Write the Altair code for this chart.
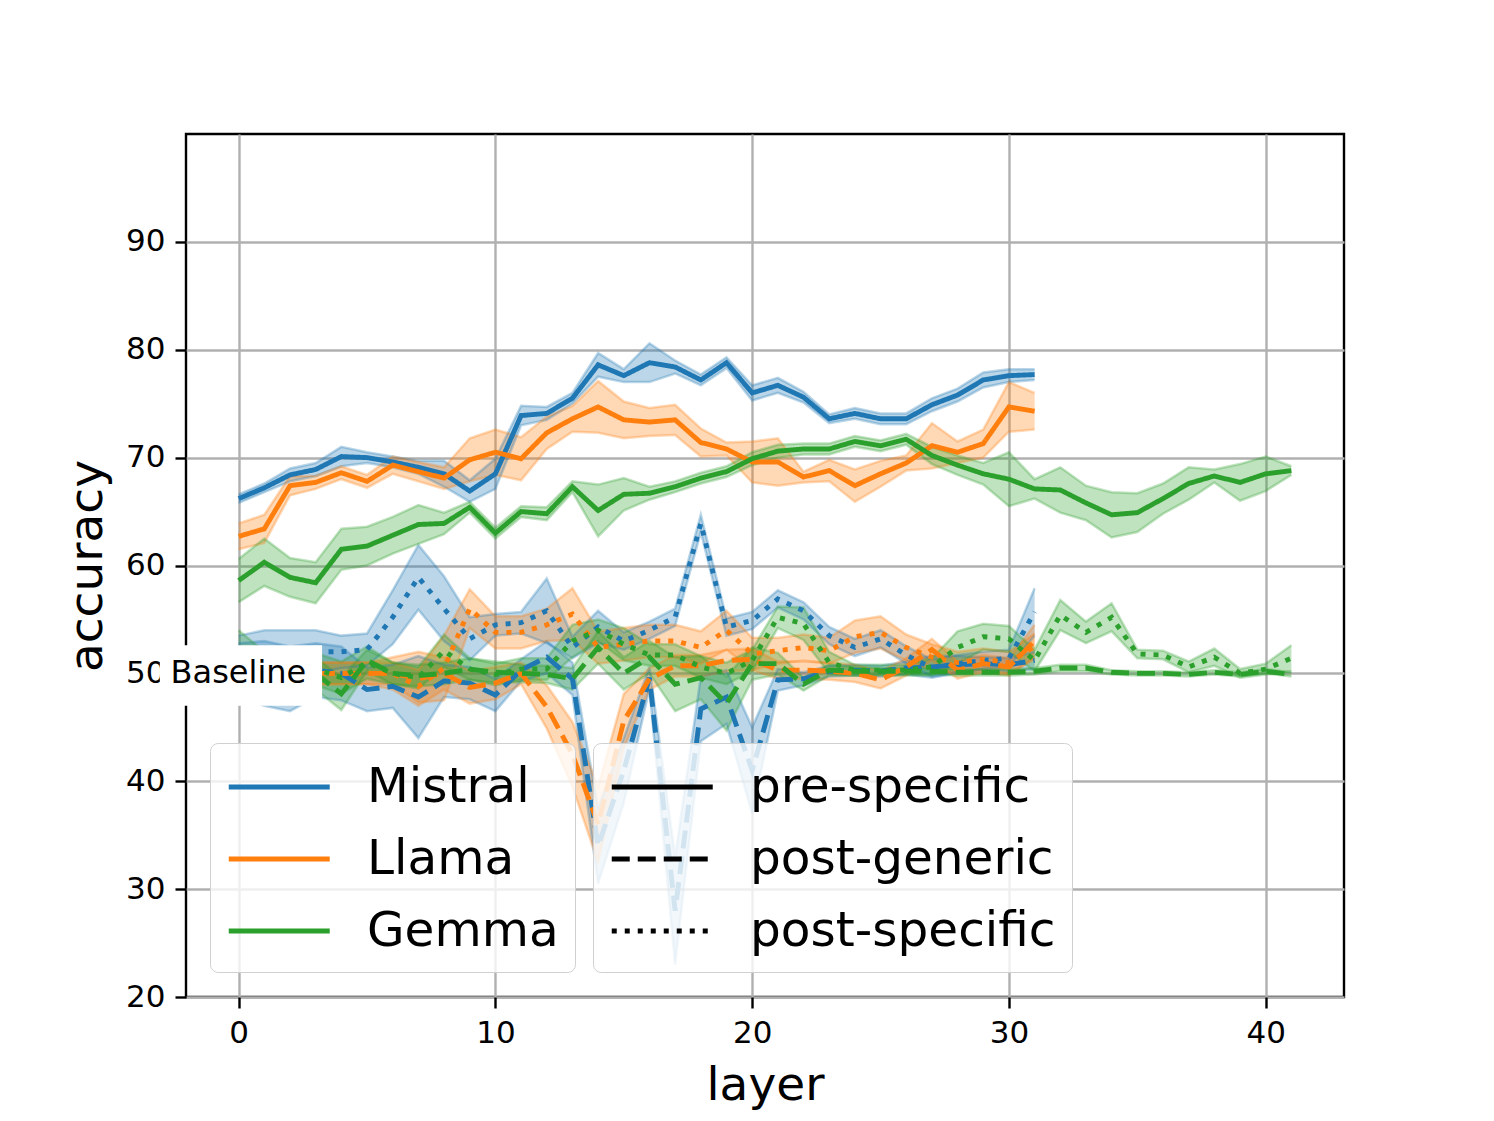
import altair as alt
import pandas as pd

# ---------------- data ----------------
models = ["Mistral", "Llama", "Gemma"]
settings = ["pre-specific", "post-generic", "post-specific"]
colors = ["#1f77b4", "#ff7f0e", "#2ca02c"]

mistral_pre = [66.2, 67.2, 68.4, 68.9, 70.1, 70.0, 69.6, 69.1, 68.5, 66.9, 68.5, 73.9, 74.1, 75.5, 78.6, 77.6,
               78.8, 78.4, 77.2, 78.8, 76.0, 76.7, 75.6, 73.6, 74.1, 73.6, 73.6, 74.9, 75.8, 77.2, 77.6, 77.7]
mistral_pre_err = [0.4, 0.4, 0.6, 0.6, 0.9, 0.5, 0.5, 0.6, 1.2, 1.0, 1.4, 0.9, 0.6, 0.5, 1.1, 0.6,
                   1.8, 0.6, 0.5, 0.5, 0.7, 0.7, 0.5, 0.4, 0.5, 0.5, 0.5, 0.6, 0.6, 0.7, 0.6, 0.5]
mistral_gen = [50.3, 50.0, 49.5, 50.3, 50.0, 48.5, 48.8, 47.8, 49.3, 49.1, 48.0, 50.3, 51.5, 49.5, 34.0, 41.0,
               49.6, 28.0, 46.7, 47.8, 41.0, 49.4, 49.5, 50.2, 50.3, 50.2, 50.5, 50.6, 50.8, 50.9, 50.8, 51.2]
mistral_gen_err = [2.5, 3.0, 3.0, 2.5, 2.5, 2.0, 2.0, 3.8, 1.5, 1.5, 1.5, 1.0, 1.5, 1.5, 3.5, 3.0,
                   1.0, 5.0, 3.0, 2.5, 4.0, 1.0, 0.6, 0.5, 0.5, 0.5, 0.6, 1.0, 0.8, 0.6, 0.6, 0.8]
mistral_spec = [51.0, 51.5, 51.5, 52.0, 52.0, 52.2, 55.2, 58.9, 56.0, 53.2, 54.5, 54.7, 55.8, 52.4, 54.3, 53.0,
                54.0, 55.2, 63.9, 54.3, 54.9, 56.9, 55.8, 53.5, 52.4, 53.2, 51.7, 50.5, 50.9, 51.2, 51.4, 55.7]
mistral_spec_err = [2.5, 2.5, 2.5, 2.0, 1.5, 1.5, 2.5, 3.0, 3.0, 2.0, 1.0, 1.0, 3.0, 1.0, 1.5, 0.8,
                    0.8, 0.8, 0.8, 0.8, 0.8, 0.8, 0.8, 0.8, 0.8, 0.8, 0.8, 0.8, 0.8, 0.8, 0.8, 2.2]

llama_pre = [62.7, 63.4, 67.4, 67.7, 68.6, 67.8, 69.3, 68.7, 68.1, 69.8, 70.5, 69.9, 72.3, 73.6, 74.7, 73.5,
             73.3, 73.5, 71.4, 70.8, 69.6, 69.6, 68.2, 68.8, 67.4, 68.5, 69.5, 71.1, 70.5, 71.3, 74.7, 74.3]
llama_pre_err = [1.2, 1.3, 0.9, 0.6, 0.6, 0.6, 0.8, 0.9, 1.0, 2.0, 2.1, 2.0, 1.5, 1.2, 2.4, 1.7,
                 1.3, 1.4, 1.3, 0.6, 1.9, 2.2, 0.5, 1.0, 1.5, 1.2, 0.7, 2.1, 1.0, 1.3, 2.3, 1.7]
llama_gen = [50.0, 50.0, 50.0, 50.0, 50.0, 50.0, 50.0, 49.5, 50.0, 48.7, 49.1, 50.0, 46.9, 42.5, 36.0, 45.6,
             49.5, 50.7, 50.7, 51.2, 51.3, 50.3, 50.3, 50.2, 50.0, 49.4, 50.6, 52.2, 50.3, 50.9, 50.6, 53.0]
llama_gen_err = [1.0, 1.0, 1.0, 1.0, 1.0, 1.0, 1.5, 2.5, 1.5, 1.5, 1.5, 1.0, 2.0, 3.0, 3.5, 2.5,
                 1.0, 1.0, 1.0, 1.0, 1.0, 0.8, 0.8, 0.8, 0.8, 0.8, 0.8, 1.0, 0.8, 0.8, 0.8, 1.5]
llama_spec = [50.0, 50.0, 50.0, 50.0, 50.0, 50.0, 50.0, 48.8, 50.5, 56.0, 53.8, 53.8, 54.5, 55.5, 52.4, 52.7,
              53.0, 53.0, 52.4, 54.0, 51.8, 52.1, 52.4, 52.1, 53.4, 53.8, 52.4, 51.5, 51.0, 51.3, 51.0, 52.5]
llama_spec_err = [1.0, 1.0, 1.0, 1.0, 1.0, 1.0, 1.0, 1.5, 3.0, 1.8, 1.5, 1.5, 1.5, 2.4, 1.5, 1.5,
                  1.5, 1.5, 1.5, 1.8, 1.5, 1.2, 1.2, 1.2, 1.5, 1.5, 1.2, 1.2, 1.0, 1.0, 1.0, 1.2]

gemma_pre = [58.6, 60.3, 58.9, 58.4, 61.5, 61.8, 62.8, 63.8, 63.9, 65.4, 63.0, 65.0, 64.8, 67.3, 65.1, 66.6,
             66.7, 67.3, 68.1, 68.7, 69.9, 70.6, 70.8, 70.8, 71.5, 71.1, 71.7, 70.2, 69.3, 68.5, 68.0, 67.1,
             67.0, 65.8, 64.7, 64.9, 66.2, 67.6, 68.3, 67.7, 68.5, 68.8]
gemma_pre_err = [2.0, 2.2, 1.8, 1.9, 1.9, 1.8, 1.7, 1.8, 1.0, 0.5, 0.5, 0.5, 0.6, 0.5, 2.4, 1.5,
                 0.6, 0.5, 0.5, 0.5, 0.6, 0.6, 0.5, 0.5, 0.5, 0.5, 0.5, 0.8, 0.9, 1.0, 2.5, 0.9,
                 2.1, 1.6, 2.1, 1.8, 1.4, 1.5, 0.6, 1.7, 1.6, 0.4]
gemma_gen = [50.0, 49.5, 50.0, 50.0, 48.1, 51.2, 50.0, 49.8, 50.0, 50.4, 50.1, 50.0, 49.9, 49.5, 52.4, 50.0,
             51.5, 49.0, 49.6, 47.2, 50.9, 50.9, 49.0, 50.3, 50.2, 50.2, 50.2, 50.2, 50.1, 50.1, 50.1, 50.2,
             50.5, 50.5, 50.1, 50.0, 50.0, 49.9, 50.1, 49.9, 50.2, 49.9]
gemma_gen_err = [1.5, 1.5, 1.5, 1.5, 1.5, 1.0, 1.0, 1.0, 1.0, 1.0, 1.0, 0.8, 0.8, 1.0, 1.5, 1.5,
                 1.5, 2.5, 2.0, 2.5, 1.5, 1.0, 0.6, 0.5, 0.4, 0.3, 0.3, 0.3, 0.3, 0.3, 0.3, 0.3,
                 0.3, 0.3, 0.2, 0.2, 0.2, 0.2, 0.2, 0.2, 0.2, 0.2]
gemma_spec = [52.0, 50.5, 50.5, 50.4, 49.6, 51.0, 50.0, 49.6, 52.1, 50.4, 49.9, 50.4, 50.4, 53.0, 54.0, 52.7,
              51.7, 51.7, 50.6, 50.0, 51.2, 55.2, 54.6, 51.0, 50.3, 50.3, 50.3, 50.6, 52.4, 53.4, 53.2, 51.2,
              55.4, 53.8, 55.2, 51.8, 51.7, 50.6, 51.5, 50.0, 50.4, 51.4]
gemma_spec_err = [2.0, 1.5, 1.5, 1.5, 1.5, 1.5, 1.0, 1.0, 1.5, 1.0, 1.0, 1.0, 1.0, 1.5, 1.0, 1.5,
                  1.0, 1.0, 1.0, 1.0, 1.0, 1.0, 1.5, 1.0, 0.5, 0.5, 0.5, 0.8, 1.5, 1.2, 1.2, 1.0,
                  1.4, 1.0, 1.3, 0.4, 0.4, 0.5, 0.8, 0.4, 0.5, 1.2]

x_ticks = [0, 10, 20, 30, 40]
y_ticks = [20, 30, 40, 50, 60, 70, 80, 90]

# Baseline annotation (data coordinates)
baseline_label = "Baseline"
baseline_x = -2.65
baseline_y = 50
baseline_box = {"x": -3.07, "x2": 3.25, "y": 47.0, "y2": 52.6}

# ---------------- table ----------------
series = {
    ("Mistral", "pre-specific"): (mistral_pre, mistral_pre_err),
    ("Mistral", "post-generic"): (mistral_gen, mistral_gen_err),
    ("Mistral", "post-specific"): (mistral_spec, mistral_spec_err),
    ("Llama", "pre-specific"): (llama_pre, llama_pre_err),
    ("Llama", "post-generic"): (llama_gen, llama_gen_err),
    ("Llama", "post-specific"): (llama_spec, llama_spec_err),
    ("Gemma", "pre-specific"): (gemma_pre, gemma_pre_err),
    ("Gemma", "post-generic"): (gemma_gen, gemma_gen_err),
    ("Gemma", "post-specific"): (gemma_spec, gemma_spec_err),
}
rows = []
for (m, s), (vals, errs) in series.items():
    for i, (v, e) in enumerate(zip(vals, errs)):
        rows.append({"layer": i, "model": m, "setting": s, "acc": v, "lo": v - e, "hi": v + e})
df = pd.DataFrame(rows)

FONT = "DejaVu Sans"
xscale = alt.Scale(domain=[-2.05, 43.05], nice=False, zero=False)
yscale = alt.Scale(domain=[20, 100], nice=False, zero=False)
cscale = alt.Scale(domain=models, range=colors)
dscale = alt.Scale(domain=settings, range=[[1, 0], [18, 8], [5, 8]])

x_enc = alt.X("layer:Q", scale=xscale, title="layer",
              axis=alt.Axis(values=x_ticks, format="d", labelPadding=10, titlePadding=14))
y_axis = alt.Axis(values=y_ticks, format="d", labelPadding=10, titlePadding=14)

# legend symbol: horizontal handle, starting at the entry's left edge, 2x the nominal symbol width
HANDLE = "M-1,0H3"
legend_common = dict(
    orient="none", title=None, symbolType=HANDLE, symbolSize=2550, symbolStrokeWidth=4.9,
    symbolOpacity=1, symbolFillColor="transparent",
    labelFontSize=48.5, labelFont=FONT, labelColor="black", labelLimit=0, labelOffset=85,
    fillColor="rgba(255,255,255,0.8)", strokeColor="#d0d0d0", cornerRadius=8,
    padding=16, rowPadding=19, legendY=609,
)
color_legend = alt.Legend(legendX=24, **legend_common)
dash_legend = alt.Legend(legendX=407, symbolStrokeColor="black", **legend_common)

def color_enc():
    return alt.Color("model:N", scale=cscale, legend=color_legend)

bands = alt.Chart(df).mark_area(opacity=0.3).encode(
    x=x_enc,
    y=alt.Y("lo:Q", scale=yscale, title="accuracy", axis=y_axis, stack=None),
    y2="hi:Q",
    color=color_enc(),
    detail="setting:N",
)

edges = alt.Chart(df).transform_fold(["lo", "hi"], as_=["edge", "val"]).mark_line(
    opacity=0.3, strokeWidth=2.5
).encode(
    x=x_enc,
    y=alt.Y("val:Q", scale=yscale, title="accuracy", axis=y_axis),
    color=color_enc(),
    detail=["setting:N", "edge:N"],
)

lines = alt.Chart(df).mark_line(strokeWidth=4.9, strokeCap="butt").encode(
    x=x_enc,
    y=alt.Y("acc:Q", scale=yscale, title="accuracy", axis=y_axis),
    color=color_enc(),
    strokeDash=alt.StrokeDash("setting:N", scale=dscale, legend=dash_legend),
)

box_df = pd.DataFrame([baseline_box])
box = alt.Chart(box_df).mark_rect(fill="white").encode(
    x=alt.X("x:Q", scale=xscale), x2="x2:Q",
    y=alt.Y("y:Q", scale=yscale), y2="y2:Q",
)
txt_df = pd.DataFrame([{"x": baseline_x, "y": baseline_y, "t": baseline_label}])
txt = alt.Chart(txt_df).mark_text(align="left", baseline="middle", fontSize=32, font=FONT,
                                  color="black").encode(
    x=alt.X("x:Q", scale=xscale), y=alt.Y("y:Q", scale=yscale), text="t:N",
)

chart = alt.layer(bands, edges, lines, box, txt).properties(
    width=1158, height=863,
    autosize=alt.AutoSizeParams(type="none"),
    padding={"left": 178, "top": 126, "right": 140, "bottom": 122},
    background="white",
).configure_axis(
    labelFont=FONT, labelFontSize=31, labelColor="black",
    titleFont=FONT, titleFontSize=47, titleFontWeight="normal", titleColor="black",
    tickColor="black", tickWidth=2.4, tickSize=11,
    gridColor="#b0b0b0", gridWidth=2.4, gridOpacity=1, domain=False,
).configure_view(stroke="black", strokeWidth=2.4)

chart.save("out.html", embed_options={"renderer": "svg", "actions": False})
